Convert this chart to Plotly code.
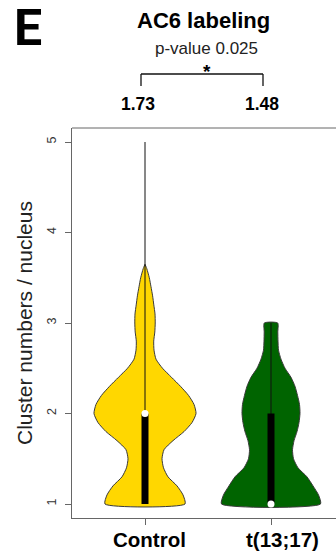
import plotly.graph_objects as go

# ---------------- data ----------------
categories = ["Control", "t(13;17)"]
means = [1.73, 1.48]
medians = [2, 1]
q1 = [1, 1]
q3 = [2, 2]
whisker_low = [1, 1]
whisker_high = [5, 3]
p_value = 0.025
y_ticks = [1, 2, 3, 4, 5]

# kernel density outlines (value -> relative density)
control_levels = [1.0, 1.1, 1.2, 1.3, 1.4, 1.5, 1.6, 1.7, 1.8, 1.9, 2.0, 2.1, 2.2, 2.3,
                  2.4, 2.5, 2.6, 2.7, 2.8, 2.9, 3.0, 3.1, 3.2, 3.3, 3.4, 3.5, 3.6, 3.65]
control_density = [0.80, 0.76, 0.64, 0.46, 0.37, 0.34, 0.38, 0.56, 0.78, 0.94, 1.02, 0.98,
                   0.87, 0.71, 0.53, 0.35, 0.22, 0.18, 0.174, 0.196, 0.204, 0.20, 0.176,
                   0.152, 0.12, 0.086, 0.036, 0.0]
t1317_levels = [1.0, 1.1, 1.2, 1.3, 1.4, 1.5, 1.6, 1.7, 1.8, 1.9, 2.0, 2.1, 2.2, 2.3,
                2.4, 2.5, 2.6, 2.7, 2.8, 2.9, 3.0]
t1317_density = [0.99, 0.95, 0.84, 0.72, 0.54, 0.45, 0.43, 0.46, 0.52, 0.56, 0.58, 0.57,
                 0.53, 0.48, 0.40, 0.28, 0.20, 0.15, 0.14, 0.136, 0.134]

levels = [control_levels, t1317_levels]
densities = [control_density, t1317_density]
fill_colors = ["#FFD700", "#006400"]

# ---------------- styling ----------------
W, H = 336, 557
ML, MR, MT, MB = 72, 0, 128, 39
positions = [1, 2]
half_width = 0.397   # x-units for relative density 1.0
box_px = 7
axis_col = "#666666"
REG = "Liberation Sans, Arial, sans-serif"
BOLD = "Liberation Sans, Arial, sans-serif"

fig = go.Figure()

for i, cat in enumerate(categories):
    c = positions[i]
    lv = levels[i]
    dn = densities[i]
    xs = [c + d * half_width for d in dn] + [c - d * half_width for d in reversed(dn)]
    ys = list(lv) + list(reversed(lv))
    xs.append(xs[0]); ys.append(ys[0])
    fig.add_trace(go.Scatter(x=xs, y=ys, mode="lines", fill="toself",
                             fillcolor=fill_colors[i],
                             line=dict(color="#3a3a3a", width=1, shape="spline", smoothing=0.6),
                             hoverinfo="skip", showlegend=False))
    fig.add_trace(go.Scatter(x=[c, c], y=[whisker_low[i], whisker_high[i]], mode="lines",
                             line=dict(color="#111111", width=1), hoverinfo="skip", showlegend=False))
    fig.add_trace(go.Scatter(x=[c, c], y=[q1[i], q3[i]], mode="lines",
                             line=dict(color="#000000", width=box_px), hoverinfo="skip", showlegend=False))
    fig.add_trace(go.Scatter(x=[c], y=[medians[i]], mode="markers",
                             marker=dict(color="white", size=7, line=dict(width=0)),
                             hoverinfo="skip", showlegend=False))

pw = W - ML - MR
ph = H - MT - MB
def px(xp):
    return (xp - ML) / pw
def py(yp):
    return (H - MB - yp) / ph

annotations = [
    dict(text="<b>E</b>", x=px(28), y=py(28), font=dict(size=50, family="Roboto, sans-serif", color="black")),
    dict(text="<b>AC6 labeling</b>", x=px(203), y=py(20), font=dict(size=22, family=BOLD, color="black")),
    dict(text=f"p-value {p_value}", x=px(206), y=py(48.5), font=dict(size=17, family=REG, color="#222")),
    dict(text="<b>*</b>", x=px(207), y=py(71), font=dict(size=19, family=REG, color="black")),
    dict(text=f"<b>{means[0]:.2f}</b>", x=px(138), y=py(104), font=dict(size=17.5, family=BOLD, color="black")),
    dict(text=f"<b>{means[1]:.2f}</b>", x=px(262), y=py(104), font=dict(size=17.5, family=BOLD, color="black")),
    dict(text=f"<b>{categories[0]}</b>", x=px(149), y=py(539), font=dict(size=20.5, family=BOLD, color="black")),
    dict(text=f"<b>{categories[1]}</b>", x=px(282), y=py(539), font=dict(size=20.5, family=BOLD, color="black")),
    dict(text="Cluster numbers / nucleus", x=px(24), y=py(323), textangle=-90,
         font=dict(size=21, family=REG, color="#222")),
]
for a in annotations:
    a.update(xref="paper", yref="paper", showarrow=False, xanchor="center", yanchor="middle")

shapes = [
    dict(type="line", xref="paper", yref="paper", x0=0, x1=1, y0=1, y1=1,
         line=dict(color=axis_col, width=1)),
    dict(type="line", xref="paper", yref="paper", x0=px(141), x1=px(263), y0=py(74), y1=py(74),
         line=dict(color="#111", width=1.3)),
    dict(type="line", xref="paper", yref="paper", x0=px(141), x1=px(141), y0=py(74), y1=py(86),
         line=dict(color="#111", width=1.3)),
    dict(type="line", xref="paper", yref="paper", x0=px(263), x1=px(263), y0=py(74), y1=py(86),
         line=dict(color="#111", width=1.3)),
]

fig.update_layout(
    template="none",
    width=W, height=H,
    margin=dict(l=ML, r=MR, t=MT, b=MB, pad=0, autoexpand=False),
    paper_bgcolor="white", plot_bgcolor="white",
    showlegend=False,
    annotations=annotations,
    shapes=shapes,
    xaxis=dict(range=[0.4206, 2.5159], showgrid=False, zeroline=False, automargin=False,
               showline=True, linecolor=axis_col, linewidth=1,
               tickvals=positions, ticks="outside", ticklen=6,
               tickcolor=axis_col, showticklabels=False, fixedrange=True),
    yaxis=dict(range=[0.8453, 5.1547], showgrid=False, zeroline=False, automargin=False,
               showline=True, linecolor=axis_col, linewidth=1,
               tickvals=y_ticks, ticktext=[str(t) for t in y_ticks],
               ticks="outside", ticklen=6, tickcolor=axis_col, tickangle=-90,
               ticklabelstandoff=4,
               tickfont=dict(size=12.5, family=REG, color="#333"), fixedrange=True),
)

fig.write_html("out.html", config={"displayModeBar": False},
               post_script="document.body.style.margin='0';document.body.style.overflow='hidden';")
